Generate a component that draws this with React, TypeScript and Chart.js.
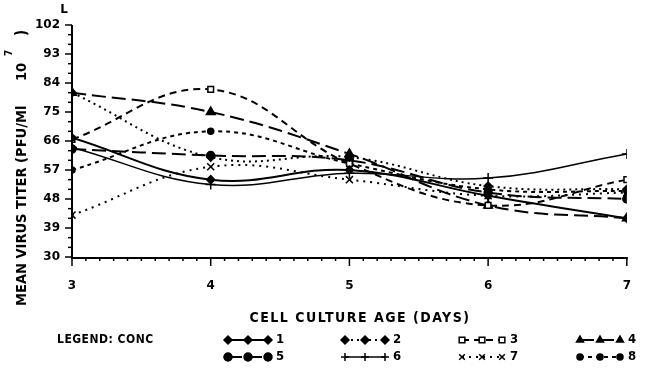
import React, { useEffect, useRef } from 'react';
import { Chart, registerables } from 'chart.js';
import { drawPoint } from 'chart.js/helpers';

Chart.register(...registerables);

const days = [3, 4, 5, 6, 7];
const conc1 = [67, 54, 57, 49, 42];
const conc2 = [81, 61, 61, 52, 51];
const conc3 = [66.5, 82, 59, 46, 54];
const conc4 = [81, 75, 62, 46, 42];
const conc5 = [63.5, 61.5, 60, 50, 48];
const conc6 = [64, 52.5, 56, 54.5, 62];
const conc7 = [43, 58, 54, 49, 50];
const conc8 = [57, 69, 59, 51, 50.5];
const seriesValues = [conc1, conc2, conc3, conc4, conc5, conc6, conc7, conc8];
const seriesLabels = ['1', '2', '3', '4', '5', '6', '7', '8'];
const yLabelValues = [30, 39, 48, 57, 66, 75, 84, 93, 102];
const xLabelValues = [3, 4, 5, 6, 7];

const FONT = "'DejaVu Sans', sans-serif";
const FONT_C = "'DejaVu Sans Condensed', 'DejaVu Sans', sans-serif";

const seriesStyles = [
  { dash: [], width: 2, point: 'rectRot', r: 4, fill: '#000' },
  { dash: [2, 4], width: 2, point: 'rectRot', r: 4, fill: '#000' },
  { dash: [7, 5], width: 2, point: 'rect', r: 4, fill: '#fff' },
  { dash: [14, 6], width: 2, point: 'triangle', r: 5, fill: '#000' },
  { dash: [14, 6], width: 2, point: 'circle', r: 4, fill: '#000' },
  { dash: [], width: 1.5, point: 'cross', r: 5, fill: '#000' },
  { dash: [2, 5], width: 2, point: 'crossRot', r: 5, fill: '#000' },
  { dash: [4, 4], width: 2, point: 'circle', r: 3, fill: '#000' },
];

const decor = {
  id: 'decor',
  afterDraw(chart: any) {
    const { ctx, chartArea: a, scales } = chart;
    const x = scales.x;
    const y = scales.y;
    ctx.save();
    ctx.strokeStyle = '#000';
    ctx.fillStyle = '#000';
    ctx.setLineDash([]);
    // axis lines
    ctx.lineWidth = 2;
    ctx.beginPath();
    ctx.moveTo(a.left, y.getPixelForValue(102));
    ctx.lineTo(a.left, a.bottom + 1);
    ctx.lineTo(x.getPixelForValue(7) + 1, a.bottom + 1);
    ctx.stroke();
    // y ticks
    ctx.lineWidth = 1.5;
    for (let v = 30; v <= 102; v += 3) {
      const py = y.getPixelForValue(v);
      const len = yLabelValues.includes(v) ? 7 : 4;
      ctx.beginPath();
      ctx.moveTo(a.left - len, py);
      ctx.lineTo(a.left, py);
      ctx.stroke();
    }
    // x ticks
    for (let i = 0; i <= 40; i++) {
      const px = x.getPixelForValue(3 + i / 10);
      const len = i % 10 === 0 ? 9 : 4;
      ctx.beginPath();
      ctx.moveTo(px, a.bottom);
      ctx.lineTo(px, a.bottom + len);
      ctx.stroke();
    }
    // L mark
    ctx.font = `bold 12px ${FONT}`;
    ctx.textAlign = 'center';
    ctx.textBaseline = 'middle';
    ctx.fillText('L', 64, 10);
    // y title
    ctx.save();
    ctx.translate(22, 306);
    ctx.rotate(-Math.PI / 2);
    ctx.font = `bold 14.5px ${FONT_C}`;
    ctx.textAlign = 'left';
    ctx.textBaseline = 'middle';
    (ctx as any).letterSpacing = '0px';
    ctx.fillText('MEAN VIRUS TITER (PFU/Ml', 0, 0);
    ctx.fillText('10', 225, 0);
    ctx.font = `bold 10px ${FONT_C}`;
    ctx.fillText('7', 250, -13);
    ctx.font = `bold 15px ${FONT_C}`;
    ctx.fillText(')', 270, 0);
    ctx.restore();
    // x title
    ctx.font = `bold 14px ${FONT_C}`;
    (ctx as any).letterSpacing = '1.5px';
    ctx.textAlign = 'center';
    ctx.fillText('CELL CULTURE AGE (DAYS)', 360, 318);
    // legend
    ctx.font = `bold 12px ${FONT_C}`;
    (ctx as any).letterSpacing = '0.5px';
    ctx.textAlign = 'left';
    ctx.fillText('LEGEND: CONC', 57, 340);
    const cols = [228, 345, 462, 580];
    const rows = [340, 357];
    chart.data.datasets.forEach((ds: any, i: number) => {
      const st = seriesStyles[i];
      const x0 = cols[i % 4];
      const yy = rows[Math.floor(i / 4)];
      ctx.save();
      ctx.lineWidth = st.width;
      ctx.setLineDash(st.dash);
      ctx.beginPath();
      ctx.moveTo(x0, yy);
      ctx.lineTo(x0 + 40, yy);
      ctx.stroke();
      ctx.setLineDash([]);
      ctx.lineWidth = 1.5;
      ctx.fillStyle = st.fill;
      [0, 20, 40].forEach((dx) => {
        drawPoint(ctx, { pointStyle: st.point as any, radius: Math.min(st.r, 4), rotation: 0, borderWidth: 1.5 }, x0 + dx, yy);
      });
      ctx.restore();
      ctx.font = `bold 13px ${FONT_C}`;
      (ctx as any).letterSpacing = '0px';
      ctx.fillText(ds.label, x0 + 48, yy);
    });
    ctx.restore();
  },
};

export default function App() {
  const ref = useRef<HTMLCanvasElement>(null);
  useEffect(() => {
    const datasets = seriesValues.map((vals, i) => {
      const st = seriesStyles[i];
      return {
        label: seriesLabels[i],
        data: days.map((d, j) => ({ x: d, y: vals[j] })),
        borderColor: '#000',
        borderWidth: st.width,
        borderDash: st.dash,
        pointStyle: st.point,
        pointRadius: st.r,
        pointBorderWidth: 1.5,
        pointBorderColor: '#000',
        pointBackgroundColor: st.fill,
        tension: 0.4,
        fill: false,
      };
    });
    const chart = new Chart(ref.current as HTMLCanvasElement, {
      type: 'line',
      data: { datasets } as any,
      options: {
        animation: false,
        responsive: false,
        devicePixelRatio: 1,
        layout: { padding: { top: 25, right: 5, left: 0, bottom: 0 } },
        plugins: { legend: { display: false }, tooltip: { enabled: false } },
        scales: {
          x: {
            type: 'linear',
            min: 3,
            max: 7,
            grid: { display: false, drawTicks: false },
            border: { display: false },
            ticks: {
              stepSize: 1,
              padding: 22,
              color: '#000',
              font: { family: FONT, size: 12, weight: 'bold' },
              callback: (v: any) => (xLabelValues.includes(Number(v)) ? String(v) : ''),
            },
            afterFit: (s: any) => {
              s.height = 114;
            },
          },
          y: {
            type: 'linear',
            min: 30,
            max: 102,
            grid: { display: false, drawTicks: false },
            border: { display: false },
            ticks: {
              stepSize: 3,
              autoSkip: false,
              padding: 12,
              color: '#000',
              font: { family: FONT, size: 12, weight: 'bold' },
              callback: (v: any) => (yLabelValues.includes(Number(v)) ? String(v) : ''),
            },
            afterFit: (s: any) => {
              s.width = 72;
            },
          },
        },
      } as any,
      plugins: [decor],
    });
    return () => chart.destroy();
  }, []);
  return (
    <div style={{ position: 'fixed', left: 0, top: 0, width: 653, height: 371, background: '#fff' }}>
      <canvas ref={ref} width={653} height={371} style={{ width: 653, height: 371, display: 'block' }} />
    </div>
  );
}
